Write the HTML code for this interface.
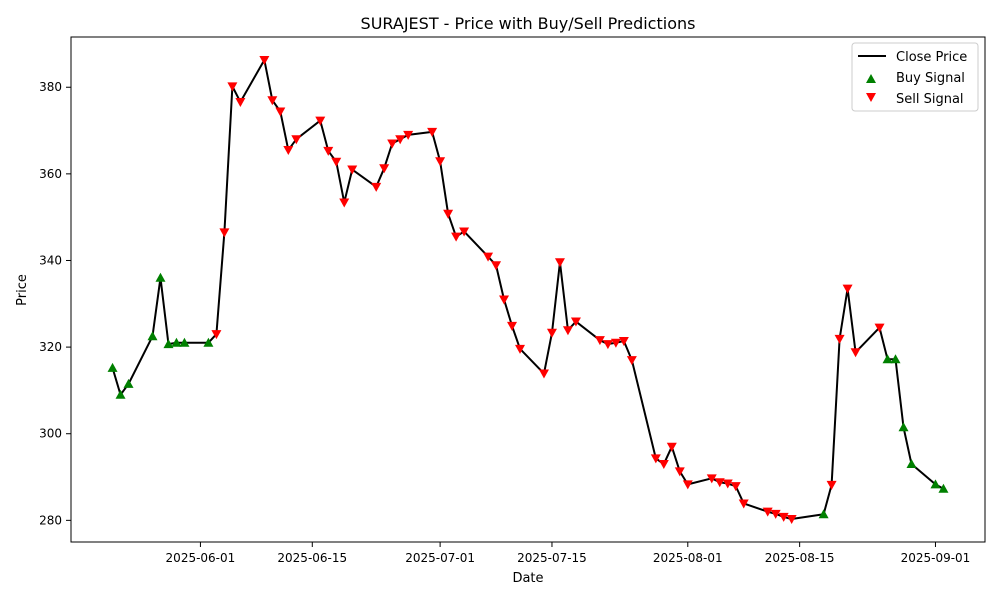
<!DOCTYPE html>
<html><head><meta charset="utf-8"><style>
body{margin:0;background:#fff;font-family:"Liberation Sans","DejaVu Sans",sans-serif}
svg text{font-family:"DejaVu Sans","Liberation Sans",sans-serif}
</style></head><body>
<svg id="chart" width="1000" height="600" xmlns="http://www.w3.org/2000/svg">
<rect width="1000" height="600" fill="#fff"/>
<text x="528" y="29" text-anchor="middle" font-size="16">SURAJEST - Price with Buy/Sell Predictions</text>
<g id="grid"></g>
<g id="marks"></g>
<rect x="71" y="37" width="914" height="505" fill="none" stroke="#000" stroke-width="1"/>
<text x="528" y="582" text-anchor="middle" font-size="13">Date</text>
<text x="26" y="290" text-anchor="middle" font-size="13" transform="rotate(-90 26 290)">Price</text>
<g>
<rect x="852" y="43" width="126" height="68" rx="3" fill="#fff" fill-opacity="0.8" stroke="#ccc"/>
<g><line x1="858" y1="56" x2="886" y2="56" stroke="#000" stroke-width="2"/><text x="896" y="61" font-size="13">Close Price</text></g>
<g><path d="M866,83 l5,-9 l5,9z" fill="green"/><text x="896" y="82" font-size="13">Buy Signal</text></g>
<g><path d="M866,93 l10,0 l-5,9z" fill="red"/><text x="896" y="103" font-size="13">Sell Signal</text></g>
</g>
</svg>
<script>
const dates=["2025-05-21","2025-05-22","2025-05-23","2025-05-26","2025-05-27","2025-05-28","2025-05-29","2025-05-30","2025-06-02","2025-06-03","2025-06-04","2025-06-05","2025-06-06","2025-06-09","2025-06-10","2025-06-11","2025-06-12","2025-06-13","2025-06-16","2025-06-17","2025-06-18","2025-06-19","2025-06-20","2025-06-23","2025-06-24","2025-06-25","2025-06-26","2025-06-27","2025-06-30","2025-07-01","2025-07-02","2025-07-03","2025-07-04","2025-07-07","2025-07-08","2025-07-09","2025-07-10","2025-07-11","2025-07-14","2025-07-15","2025-07-16","2025-07-17","2025-07-18","2025-07-21","2025-07-22","2025-07-23","2025-07-24","2025-07-25","2025-07-28","2025-07-29","2025-07-30","2025-07-31","2025-08-01","2025-08-04","2025-08-05","2025-08-06","2025-08-07","2025-08-08","2025-08-11","2025-08-12","2025-08-13","2025-08-14","2025-08-18","2025-08-19","2025-08-20","2025-08-21","2025-08-22","2025-08-25","2025-08-26","2025-08-27","2025-08-28","2025-08-29","2025-09-01","2025-09-02"];
const closes=[315.2,309,311.5,322.5,336,320.7,321,321,321,323,346.5,380.2,376.6,386.3,377,374.4,365.5,368,372.3,365.3,362.8,353.4,361,357,361.3,367,368,369,369.7,362.9,350.8,345.5,346.7,340.9,338.9,331,324.9,319.6,313.9,323.3,339.6,323.9,325.9,321.6,320.7,321,321.4,317,294.3,293,297,291.3,288.3,289.7,288.8,288.5,287.9,283.9,282,281.5,280.8,280.3,281.4,288.2,321.9,333.5,318.8,324.5,317.2,317.2,301.5,293,288.3,287.3];
const signals="BBBBBBBBBSSSSSSSSSSSSSSSSSSSSSSSSSSSSSSSSSSSSSSSSSSSSSSSSSSSSSBSSSSSBBBBBB".split("");
const yTicks=[280,300,320,340,360,380];
const xTicks=["2025-06-01","2025-06-15","2025-07-01","2025-07-15","2025-08-01","2025-08-15","2025-09-01"];
const NS="http://www.w3.org/2000/svg";
const base=Date.UTC(2025,5,1);
function day(s){const p=s.split("-");return (Date.UTC(+p[0],p[1]-1,+p[2])-base)/864e5;}
const d0=day(dates[0]),d1=day(dates[dates.length-1]);
const dx0=d0-(d1-d0)*0.05,dx1=d1+(d1-d0)*0.05;
const vmin=Math.min(...closes),vmax=Math.max(...closes);
const vy0=vmin-(vmax-vmin)*0.05,vy1=vmax+(vmax-vmin)*0.05;
function X(s){return 71+(day(s)-dx0)/(dx1-dx0)*914;}
function Y(v){return 542-(v-vy0)/(vy1-vy0)*505;}
function mk(t,a,p){const e=document.createElementNS(NS,t);for(const k in a)e.setAttribute(k,a[k]);p.appendChild(e);return e;}
const g=document.getElementById("grid"),m=document.getElementById("marks");
yTicks.forEach(v=>{const y=Y(v);
 const l=mk("line",{x1:66,x2:71,y1:y,y2:y,stroke:"#000"},g);
 
 
 const t=mk("text",{x:62,y:y+4,"text-anchor":"end","font-size":12},g);t.textContent=v;
 
 
});
xTicks.forEach(s=>{const x=X(s);
 const l=mk("line",{x1:x,x2:x,y1:542,y2:547,stroke:"#000"},g);
 
 
 const t=mk("text",{x:x,y:562,"text-anchor":"middle","font-size":12},g);t.textContent=s;
 
 
});
const line=mk("polyline",{points:dates.map((d,i)=>X(d)+","+Y(closes[i])).join(" "),fill:"none",stroke:"#000","stroke-width":2,"stroke-linejoin":"round"},m);


dates.forEach((d,i)=>{const x=X(d),y=Y(closes[i]);let p;
 if(signals[i]==="B"){p=mk("path",{d:`M${x-5},${y+4} L${x},${y-5} L${x+5},${y+4}Z`,fill:"green"},m);
  }
 else{p=mk("path",{d:`M${x-5},${y-4} L${x+5},${y-4} L${x},${y+5}Z`,fill:"red"},m);
  }
 
});
</script>
</body></html>
